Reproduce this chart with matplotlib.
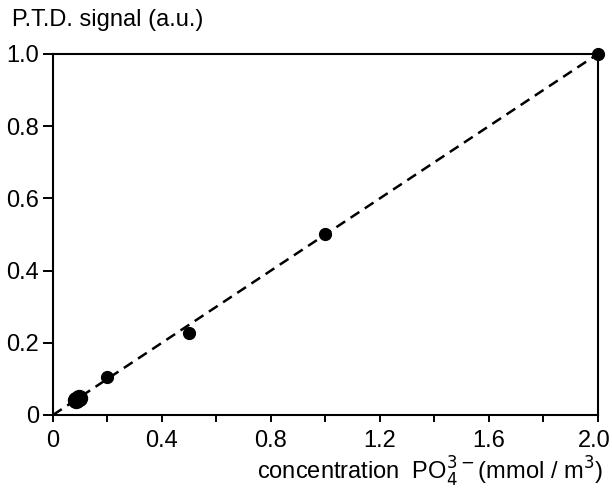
import matplotlib
matplotlib.use("Agg")
import matplotlib.pyplot as plt
import matplotlib.transforms as mtransforms
from matplotlib.ticker import MultipleLocator, FixedLocator

plt.rcParams['font.family'] = ['Liberation Sans', 'DejaVu Sans']

conc = [0.20, 0.50, 1.00, 2.00]
signal = [0.105, 0.228, 0.500, 1.000]
conc_low = [0.085, 0.095]
signal_low = [0.042, 0.047]
fit_x = [0.0, 2.0]
fit_y = [0.0, 1.0]
xticks_major = [0, 0.4, 0.8, 1.2, 1.6, 2.0]
xtick_labels = ["0", "0.4", "0.8", "1.2", "1.6", "2.0"]
yticks = [0, 0.2, 0.4, 0.6, 0.8, 1.0]
ytick_labels = ["0", "0.2", "0.4", "0.6", "0.8", "1.0"]

fig = plt.figure(figsize=(6.12, 4.94), dpi=100)
ax = fig.add_axes([0.0866, 0.16, 0.8905, 0.731])

ax.plot(fit_x, fit_y, color='black', linestyle=(0, (4.2, 2.6)), linewidth=1.8, zorder=2)
ax.plot(conc, signal, 'o', color='black', markersize=8.5, zorder=3, clip_on=False)
ax.plot(conc_low, signal_low, 'o', color='black', markersize=11.5, zorder=3, clip_on=False)

ax.set_xlim(0, 2.0)
ax.set_ylim(0, 1.0)
ax.xaxis.set_major_locator(FixedLocator(xticks_major))
ax.set_xticklabels(xtick_labels)
ax.xaxis.set_minor_locator(MultipleLocator(0.2))
ax.yaxis.set_major_locator(FixedLocator(yticks))
ax.set_yticklabels(ytick_labels)

for s in ax.spines.values():
    s.set_linewidth(1.5)
ax.tick_params(axis='both', which='both', direction='out', width=1.4, labelsize=17, colors='black')
ax.tick_params(axis='x', which='major', length=5, pad=6)
ax.tick_params(axis='x', which='minor', length=5)
ax.tick_params(axis='y', which='major', length=7, pad=3)

fig.canvas.draw()
last = ax.get_xticklabels()[-1]
last.set_transform(last.get_transform() + mtransforms.ScaledTranslation(-4/100, 0, fig.dpi_scale_trans))

fig.text(0.02, 0.96, "P.T.D. signal (a.u.)", fontsize=17, ha='left', va='center')
fig.text(0.985, 0.045, r"concentration  PO$_4^{3-}$(mmol / m$^3$)", fontsize=17, ha='right', va='center')

fig.savefig("out.png", dpi=100)
